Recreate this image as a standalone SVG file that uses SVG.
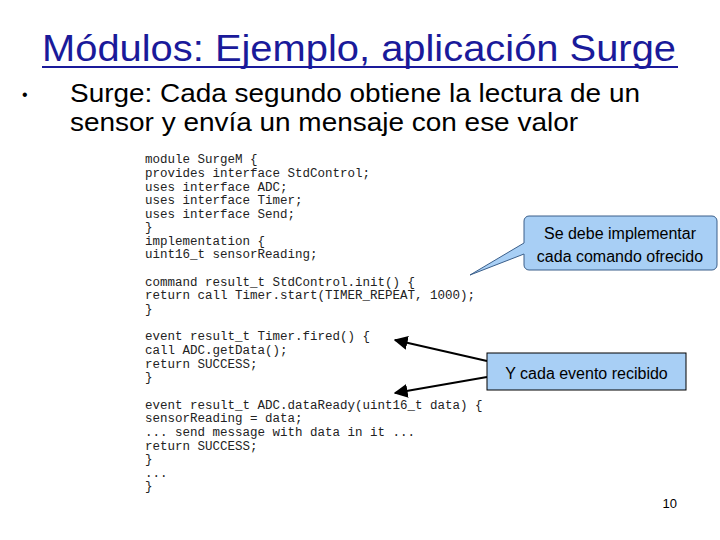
<svg xmlns="http://www.w3.org/2000/svg" width="720" height="540" viewBox="0 0 720 540">
<style>
.code{font-family:"Liberation Mono",monospace;font-size:12.5px;fill:#222}
.s{font-family:"Liberation Sans",Arial,sans-serif}
</style>
<defs><marker id="ah" viewBox="0 0 10 10" refX="9" refY="5" markerWidth="7" markerHeight="7" orient="auto"><path d="M0,0L10,5L0,10z" fill="#000"/></marker></defs>
<rect width="720" height="540" fill="#fff"/>
<g id="title"><text x="42" y="61" class="s" font-size="36" fill="#1a1a9a" textLength="634" lengthAdjust="spacingAndGlyphs">Módulos: Ejemplo, aplicación Surge</text><line x1="42" y1="67" x2="678" y2="67" stroke="#1a1a9a" stroke-width="2"/></g>
<g id="bullet" class="s" font-size="25" fill="#000"><text x="22" y="100" font-size="16">•</text><text x="70" y="102" textLength="570" lengthAdjust="spacingAndGlyphs">Surge: Cada segundo obtiene la lectura de un</text><text x="70" y="131" textLength="508" lengthAdjust="spacingAndGlyphs">sensor y envía un mensaje con ese valor</text></g>
<g id="code" class="code" xml:space="preserve">
<text x="145" y="163">module SurgeM {</text>
<text x="145" y="177">  provides interface StdControl;</text>
<text x="145" y="191">  uses interface ADC;</text>
<text x="145" y="204">  uses interface Timer;</text>
<text x="145" y="218">  uses interface Send;</text>
<text x="145" y="231">}</text>
<text x="145" y="245">implementation {</text>
<text x="145" y="258">  uint16_t sensorReading;</text>
<text x="145" y="286">  command result_t StdControl.init() {</text>
<text x="145" y="299">    return call Timer.start(TIMER_REPEAT, 1000);</text>
<text x="145" y="313">  }</text>
<text x="145" y="340">  event result_t Timer.fired() {</text>
<text x="145" y="354">    call ADC.getData();</text>
<text x="145" y="368">    return SUCCESS;</text>
<text x="145" y="381">  }</text>
<text x="145" y="409">  event result_t ADC.dataReady(uint16_t data) {</text>
<text x="145" y="422">    sensorReading = data;</text>
<text x="145" y="436">    ... send message with data in it ...</text>
<text x="145" y="450">    return SUCCESS;</text>
<text x="145" y="463">  }</text>
<text x="145" y="477">  ...</text>
<text x="145" y="490">}</text>
</g>
<g id="callout1"><path d="M529,216H712a5,5 0 0 1 5,5V265a5,5 0 0 1-5,5H529a5,5 0 0 1-5-5V254L470,275L524,243V221a5,5 0 0 1 5-5z" fill="#a8cff5" stroke="#3b5f8a" stroke-width="1"/>
<text x="620" y="239" class="s" font-size="16" text-anchor="middle">Se debe implementar</text><text x="620" y="262" class="s" font-size="16" text-anchor="middle">cada comando ofrecido</text></g>
<g id="connectors" stroke="#000" stroke-width="2"><line x1="487" y1="361" x2="395" y2="340" marker-end="url(#ah)"/><line x1="487" y1="377" x2="395" y2="393" marker-end="url(#ah)"/></g>
<g id="callout2"><rect x="487" y="353" width="199" height="37" fill="#a8cff5" stroke="#000" stroke-width="1"/><text x="586.5" y="379" class="s" font-size="16" text-anchor="middle">Y cada evento recibido</text></g>
<g id="page"><text x="677" y="508" class="s" font-size="13" text-anchor="end">10</text></g>
</svg>
